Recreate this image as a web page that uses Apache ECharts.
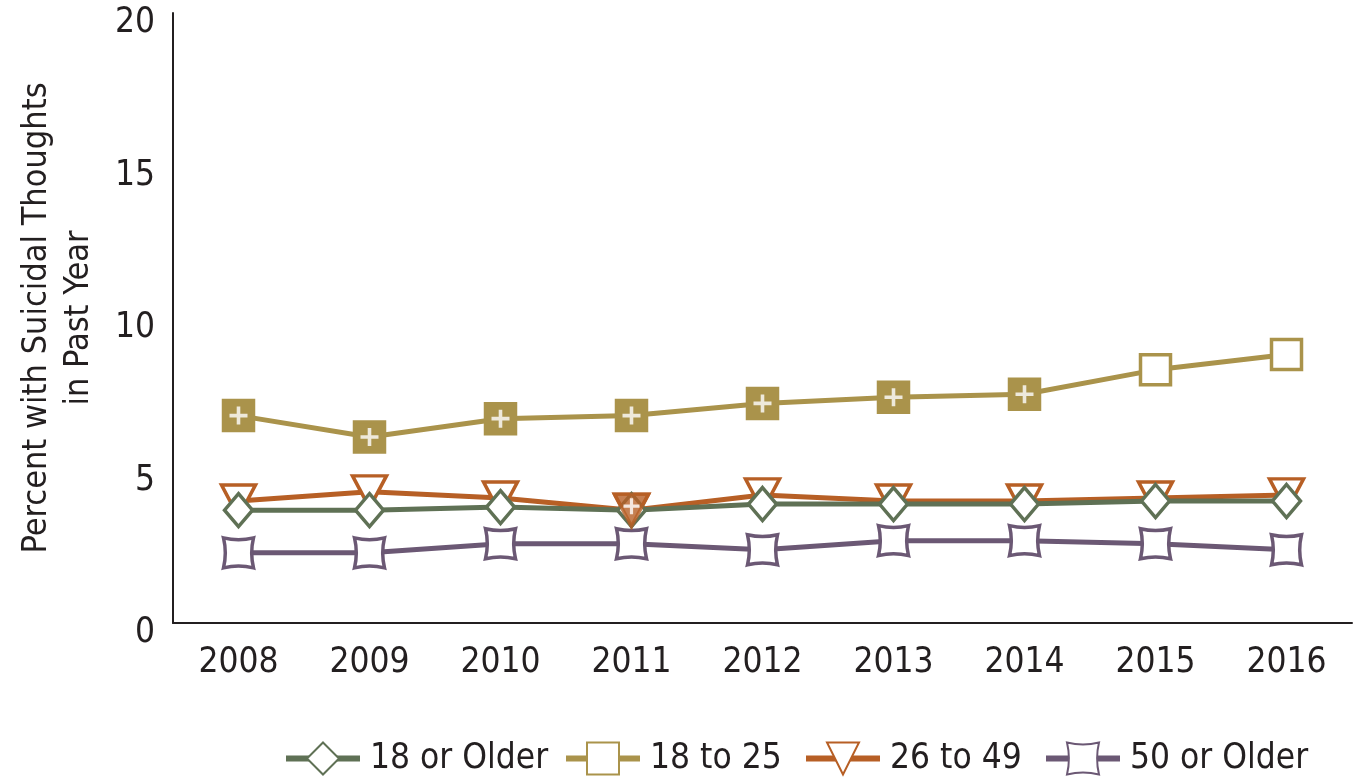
<!DOCTYPE html>
<html><head><meta charset="utf-8">
<script src="https://cdn.jsdelivr.net/npm/echarts@6/dist/echarts.min.js"></script>
<style>html,body{margin:0;padding:0;background:#fff}#c{width:1356px;height:783px}</style>
</head><body><div id="c"></div>
<script>
const years = ['2008','2009','2010','2011','2012','2013','2014','2015','2016'];
const yTicks = [0, 5, 10, 15, 20];
const older18 = [3.7, 3.7, 3.8, 3.7, 3.9, 3.9, 3.9, 4.0, 4.0];
const age18to25 = [6.8, 6.1, 6.7, 6.8, 7.2, 7.4, 7.5, 8.3, 8.8];
const age26to49 = [4.0, 4.3, 4.1, 3.7, 4.2, 4.0, 4.0, 4.1, 4.2];
const older50 = [2.3, 2.3, 2.6, 2.6, 2.4, 2.7, 2.7, 2.6, 2.4];
// 1 = significantly different from 2016 (filled marker with plus)
const sig18to25 = [1, 1, 1, 1, 1, 1, 1, 0, 0];
const sig26to49 = [0, 0, 0, 1, 0, 0, 0, 0, 0];
const seriesNames = ['18 or Older', '18 to 25', '26 to 49', '50 or Older'];

const FONT = "'Liberation Sans Narrow','DejaVu Sans Condensed',sans-serif";
const TXT = '#231f20';
const C_GREEN = '#5f7155', C_GOLD = '#aa934b', C_ORANGE = '#b75f25', C_PURPLE = '#6b5874';
const CONCAVE = 'path://M0,0 Q50,12 100,0 Q88,50 100,100 Q50,88 0,100 Q12,50 0,0 Z';
const PLUS = 'path://M4.8,0H7.2V4.8H12V7.2H7.2V12H4.8V7.2H0V4.8H4.8Z';

function lineSeries(name, data, color, symbol, size, rotate, z) {
  return {
    name, type: 'line', data, z,
    symbol, symbolSize: size, symbolRotate: rotate || 0,
    lineStyle: { color, width: 5 },
    itemStyle: { color: '#fff', borderColor: color, borderWidth: 3.5 },
    emphasis: { disabled: true }, animation: false
  };
}
function sigData(vals, flags) { return vals.map((v, i) => flags[i] ? v : null); }

const s1825 = lineSeries('18 to 25', age18to25.map((v, i) => sig18to25[i]
  ? { value: v, itemStyle: { color: C_GOLD, borderColor: C_GOLD } } : v), C_GOLD, 'rect', 30, 0, 5);

const legendLefts = [283, 563, 803, 1043];
const legends = seriesNames.map((n, i) => ({
  data: [n], left: legendLefts[i], top: 741, itemWidth: 74, itemHeight: 40, itemGap: 0,
  padding: 0,
  textStyle: { fontSize: 35, fontFamily: FONT, color: TXT, padding: [0, 0, 0, 5] },
  lineStyle: { width: 6 },
  selectedMode: false
}));

const option = {
  backgroundColor: '#fff',
  animation: false,
  grid: { left: 173, right: 4, top: 13, bottom: 160, outerBoundsMode: 'none', containLabel: false },
  xAxis: {
    type: 'category', data: years, boundaryGap: true,
    axisLine: { lineStyle: { color: TXT, width: 2 } },
    axisTick: { show: false },
    axisLabel: { fontSize: 35, fontFamily: FONT, color: TXT, margin: 22 }
  },
  yAxis: {
    type: 'value', min: 0, max: 20, interval: 5,
    name: 'Percent with Suicidal Thoughts\nin Past Year',
    nameLocation: 'middle', nameGap: 73, nameRotate: 90,
    nameTextStyle: { fontSize: 34, fontFamily: FONT, color: TXT, lineHeight: 42 },
    axisLine: { show: true, lineStyle: { color: TXT, width: 2 } },
    axisTick: { show: false },
    splitLine: { show: false },
    axisLabel: { fontSize: 35, fontFamily: FONT, color: TXT, margin: 18,
      verticalAlign: 'top', lineHeight: 20,
      formatter: v => yTicks.includes(v) ? String(v) : '' }
  },
  legend: legends,
  series: [
    lineSeries('50 or Older', older50, C_PURPLE, CONCAVE, 30, 0, 2),
    lineSeries('26 to 49', age26to49, C_ORANGE, 'triangle', [34, 32], 180, 3),
    lineSeries('18 or Older', older18, C_GREEN, 'diamond', [28, 33], 0, 4),
    s1825,
    { name: 'sig26', type: 'scatter', data: sigData(age26to49, sig26to49), z: 6,
      symbol: 'triangle', symbolRotate: 180, symbolSize: [34, 32],
      itemStyle: { color: C_ORANGE, borderColor: C_ORANGE, borderWidth: 3.5 }, silent: true },
    { name: 'plus26', type: 'scatter', data: sigData(age26to49, sig26to49), z: 7,
      symbol: PLUS, symbolSize: 16, symbolOffset: [0, -4],
      itemStyle: { color: '#fff' }, silent: true },
    { name: 'plus1825', type: 'scatter', data: sigData(age18to25, sig18to25), z: 7,
      symbol: PLUS, symbolSize: 18,
      itemStyle: { color: '#fff' }, silent: true }
  ]
};
echarts.init(document.getElementById('c'), null, { renderer: 'canvas' }).setOption(option);
</script></body></html>
